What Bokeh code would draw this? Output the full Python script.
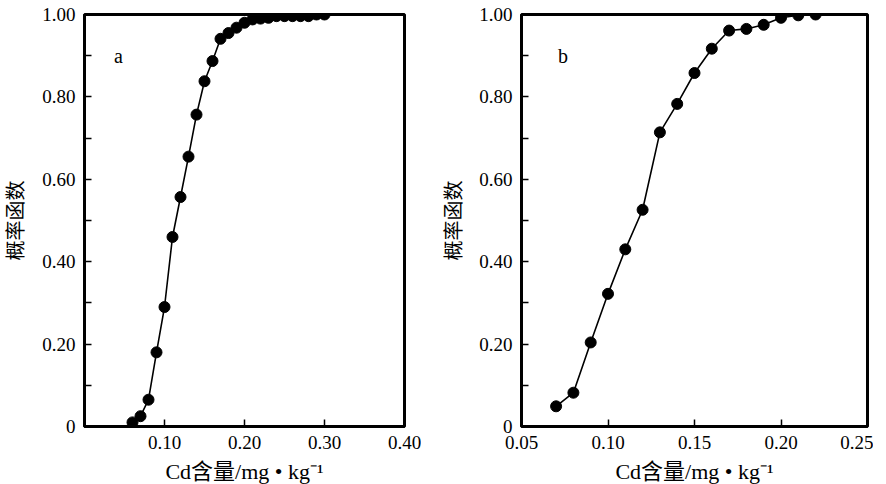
from bokeh.plotting import figure
from bokeh.layouts import row
from bokeh.models import Range1d, FixedTicker, NumeralTickFormatter
from bokeh.core.properties import value
from bokeh.embed import file_html
from bokeh.resources import INLINE

# Panel a data
xa = [0.06, 0.07, 0.08, 0.09, 0.10, 0.11, 0.12, 0.13, 0.14, 0.15, 0.16, 0.17, 0.18,
      0.19, 0.20, 0.21, 0.22, 0.23, 0.24, 0.25, 0.26, 0.27, 0.28, 0.29, 0.30]
ya = [0.010, 0.025, 0.065, 0.180, 0.290, 0.460, 0.557, 0.655, 0.757, 0.838, 0.887, 0.941, 0.955,
      0.968, 0.980, 0.988, 0.990, 0.992, 0.996, 0.996, 0.996, 0.996, 0.996, 1.000, 1.000]

# Panel b data
xb = [0.07, 0.08, 0.09, 0.10, 0.11, 0.12, 0.13, 0.14, 0.15, 0.16, 0.17, 0.18, 0.19, 0.20, 0.21, 0.22]
yb = [0.049, 0.082, 0.204, 0.322, 0.430, 0.526, 0.714, 0.783, 0.858, 0.917, 0.961, 0.965, 0.975,
      0.992, 0.998, 1.000]

y_major = [0, 0.2, 0.4, 0.6, 0.8, 1.0]
y_minor = [0.1, 0.3, 0.5, 0.7, 0.9]
xa_ticks = [0.1, 0.2, 0.3, 0.4]
xb_ticks = [0.05, 0.10, 0.15, 0.20, 0.25]

x_title = "Cd含量/mg • kg⁻¹"
y_title = "概率函数"

SERIF = "Liberation Serif"
LABEL_FONT = "Liberation Serif, Noto Sans CJK SC"


def make_panel(x, y, xr, xticks, letter, letter_x, fw, left_border, right_border, ylab_standoff):
    p = figure(frame_width=fw, frame_height=412,
               x_range=Range1d(*xr), y_range=Range1d(0, 1.0),
               output_backend="svg", toolbar_location=None,
               min_border_left=left_border, min_border_right=right_border,
               min_border_top=14, min_border_bottom=48)
    p.background_fill_color = "white"
    p.border_fill_color = "white"
    p.outline_line_color = "black"
    p.outline_line_width = 3
    p.xgrid.visible = False
    p.ygrid.visible = False

    p.xaxis.ticker = FixedTicker(ticks=xticks)
    p.yaxis.ticker = FixedTicker(ticks=y_major, minor_ticks=y_minor)
    p.xaxis.formatter = NumeralTickFormatter(format="0.00")
    p.yaxis.formatter = NumeralTickFormatter(format="0.00")
    p.yaxis.major_label_overrides = {0: "0"}

    for ax in (p.xaxis[0], p.yaxis[0]):
        ax.axis_line_color = "black"
        ax.axis_line_width = 3
        ax.major_tick_in = 7
        ax.major_tick_out = 0
        ax.minor_tick_in = 7
        ax.minor_tick_out = 0
        ax.major_tick_line_width = 1.5
        ax.minor_tick_line_width = 1.5
        ax.major_label_text_font = SERIF
        ax.major_label_text_font_size = "19px"
        ax.major_label_text_color = "black"
        ax.axis_label_text_font = LABEL_FONT
        ax.axis_label_text_font_style = "normal"
        ax.axis_label_text_color = "black"
        ax.major_label_standoff = 9

    p.xaxis.axis_label = x_title
    p.yaxis.axis_label = y_title
    p.xaxis.axis_label_text_font_size = "22px"
    p.yaxis.axis_label_text_font_size = "20px"
    p.xaxis.axis_label_standoff = 7
    p.yaxis.axis_label_standoff = ylab_standoff

    p.line(x, y, line_color="black", line_width=1.6)
    p.scatter(x, y, size=11, fill_color="black", line_color="black")
    p.text(x=[letter_x], y=[0.9], text=[letter], text_font=value(SERIF),
           text_font_size="20px", text_baseline="middle", text_align="center",
           text_color="black")
    return p


pa = make_panel(xa, ya, (0, 0.40), xa_ticks, "a", 0.0425, 320, 84, 17, 12)
pb = make_panel(xb, yb, (0.05, 0.25), xb_ticks, "b", 0.074, 346, 100, 6, 11)

layout = row(pa, pb)
open("out.html", "w").write(file_html(layout, INLINE))
